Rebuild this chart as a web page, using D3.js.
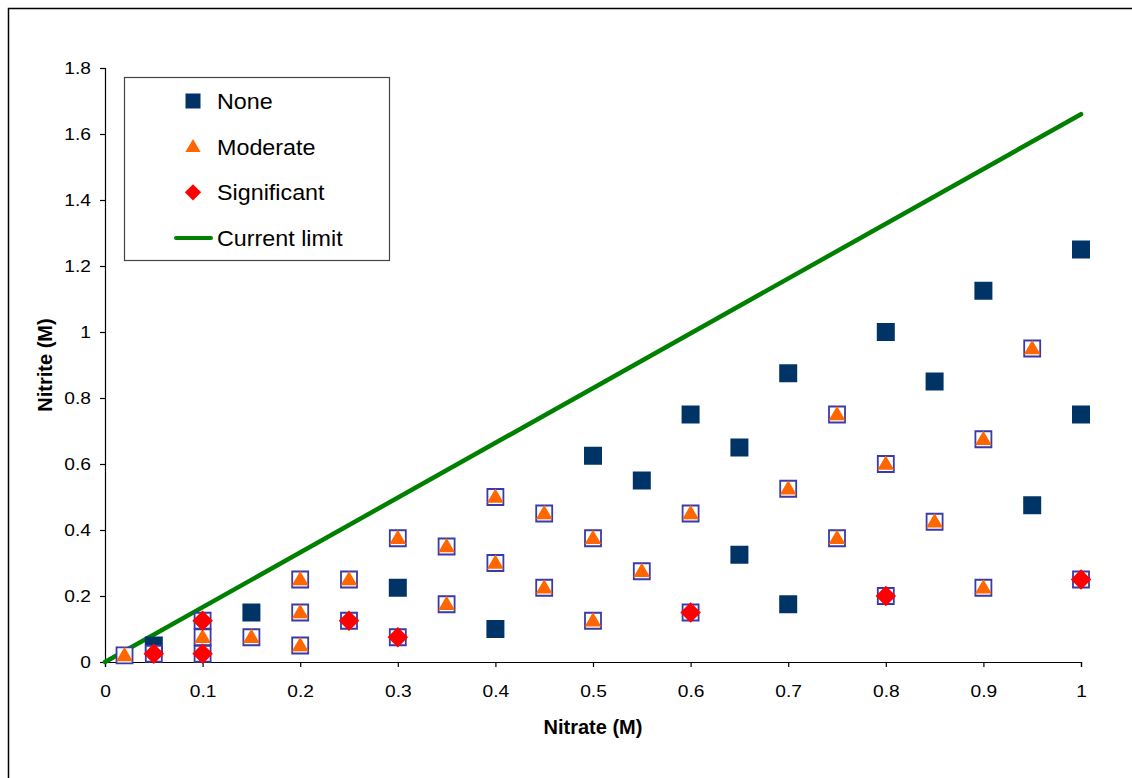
<!DOCTYPE html>
<html>
<head>
<meta charset="utf-8">
<script src="https://cdn.jsdelivr.net/npm/d3@7"></script>
<style>
  body { margin: 0; background: #fff; }
  text { font-family: "Liberation Sans", Arial, sans-serif; }
</style>
</head>
<body>
<div id="viz"></div>
<script>
// data, [nitrate, nitrite] in M
let nonePts = [
  [0.05, 0.05], [0.15, 0.15], [0.3, 0.225], [0.4, 0.1], [0.5, 0.625],
  [0.55, 0.55], [0.6, 0.75], [0.65, 0.65], [0.65, 0.325], [0.7, 0.875],
  [0.7, 0.175], [0.8, 1.0], [0.85, 0.85], [0.9, 1.125], [0.95, 0.475],
  [1.0, 1.25], [1.0, 0.75]
]

let moderatePts = [
  [0.02, 0.02], [0.1, 0.075], [0.15, 0.075], [0.2, 0.25], [0.2, 0.15],
  [0.2, 0.05], [0.25, 0.25], [0.3, 0.375], [0.35, 0.35], [0.35, 0.175],
  [0.4, 0.5], [0.4, 0.3], [0.45, 0.45], [0.45, 0.225], [0.5, 0.375],
  [0.5, 0.125], [0.55, 0.275], [0.6, 0.45], [0.7, 0.525], [0.75, 0.75],
  [0.75, 0.375], [0.8, 0.6], [0.85, 0.425], [0.9, 0.675], [0.9, 0.225],
  [0.95, 0.95]
]

let significantPts = [
  [0.05, 0.025], [0.1, 0.125], [0.1, 0.025], [0.25, 0.125], [0.3, 0.075],
  [0.6, 0.15], [0.8, 0.2], [1.0, 0.25]
]

// hollow squares sit under every moderate / significant sample
let outlinePts = moderatePts.concat(significantPts)

let limitLine = [[0, 0], [1, 1.66]]

let xTicks = [0, 0.1, 0.2, 0.3, 0.4, 0.5, 0.6, 0.7, 0.8, 0.9, 1]
let yTicks = [0, 0.2, 0.4, 0.6, 0.8, 1, 1.2, 1.4, 1.6, 1.8]

let legendItems = ['None', 'Moderate', 'Significant', 'Current limit']

let width = 1132
let height = 778
let stretch = 1.13 // tick labels in the picture are a bit wide

let svg = d3.select('#viz')
  .append('svg')
  .attr('width', width)
  .attr('height', height)

// outer chart border (runs off right and bottom)
svg.append('rect')
  .attr('x', 8.5)
  .attr('y', 8.5)
  .attr('width', 1140)
  .attr('height', 800)
  .attr('fill', 'none')
  .attr('stroke', '#000')
  .attr('stroke-width', 1.5)

let x = d3.scaleLinear().domain([0, 1]).range([105, 1081])
let y = d3.scaleLinear().domain([0, 1.8]).range([662, 68])

// axes
let xAxis = svg.append('g')
  .attr('transform', 'translate(0,662)')
  .call(d3.axisBottom(x).tickValues(xTicks).tickSize(5).tickPadding(18).tickFormat(d3.format('')))
let yAxis = svg.append('g')
  .attr('transform', 'translate(105,0)')
  .call(d3.axisLeft(y).tickValues(yTicks).tickSize(5).tickPadding(9).tickFormat(d3.format('')))

;[xAxis, yAxis].forEach(a => {
  a.select('.domain').attr('stroke', '#000').attr('stroke-width', 1.2)
  a.selectAll('.tick line').attr('stroke', '#000').attr('stroke-width', 1.2)
  a.selectAll('.tick text')
    .attr('font-family', '"Liberation Sans", Arial, sans-serif')
    .attr('font-size', 17)
    .attr('fill', '#000')
    .attr('transform', `scale(${stretch},1)`)
})
yAxis.selectAll('.tick text').attr('x', -14 / stretch)

svg.append('text')
  .attr('x', 593)
  .attr('y', 734)
  .attr('text-anchor', 'middle')
  .attr('font-size', 20)
  .attr('font-weight', 'bold')
  .text('Nitrate (M)')

svg.append('text')
  .attr('transform', 'translate(52,365) rotate(-90)')
  .attr('text-anchor', 'middle')
  .attr('font-size', 20)
  .attr('font-weight', 'bold')
  .text('Nitrite (M)')

// current limit line
svg.append('path')
  .datum(limitLine)
  .attr('d', d3.line().x(d => x(d[0])).y(d => y(d[1])))
  .attr('fill', 'none')
  .attr('stroke', '#008000')
  .attr('stroke-width', 4.5)
  .attr('stroke-linecap', 'round')

let sqSymbol = d3.symbol().type(d3.symbolSquare).size(18 * 18)
let outSymbol = d3.symbol().type(d3.symbolSquare).size(16 * 16)
let triSymbol = d3.symbol().type(d3.symbolTriangle).size(120)
let diaSymbol = d3.symbol().type(d3.symbolSquare).size(14.5 * 14.5)

svg.append('g').selectAll('path')
  .data(nonePts)
  .join('path')
  .attr('transform', d => `translate(${x(d[0])},${y(d[1])})`)
  .attr('d', sqSymbol)
  .attr('fill', '#003366')

svg.append('g').selectAll('path')
  .data(outlinePts)
  .join('path')
  .attr('transform', d => `translate(${x(d[0])},${y(d[1])})`)
  .attr('d', outSymbol)
  .attr('fill', '#fff')
  .attr('stroke', '#3a3aa8')
  .attr('stroke-width', 1.8)

svg.append('g').selectAll('path')
  .data(moderatePts)
  .join('path')
  .attr('transform', d => `translate(${x(d[0])},${y(d[1]) + 1})`)
  .attr('d', triSymbol)
  .attr('fill', '#ff6600')

svg.append('g').selectAll('path')
  .data(significantPts)
  .join('path')
  .attr('transform', d => `translate(${x(d[0])},${y(d[1])}) rotate(45)`)
  .attr('d', diaSymbol)
  .attr('fill', '#ff0000')

// legend
let legend = svg.append('g')
legend.append('rect')
  .attr('x', 124.5)
  .attr('y', 77.5)
  .attr('width', 265)
  .attr('height', 183)
  .attr('fill', '#fff')
  .attr('stroke', '#444')
  .attr('stroke-width', 1.2)

let legRowY = d3.scalePoint().domain(legendItems).range([101, 238])

legend.append('path')
  .attr('transform', `translate(193,${legRowY('None')})`)
  .attr('d', d3.symbol().type(d3.symbolSquare).size(15 * 15))
  .attr('fill', '#003366')
legend.append('path')
  .attr('transform', `translate(193,${legRowY('Moderate') + 1})`)
  .attr('d', d3.symbol().type(d3.symbolTriangle).size(100))
  .attr('fill', '#ff6600')
legend.append('path')
  .attr('transform', `translate(193,${legRowY('Significant')}) rotate(45)`)
  .attr('d', d3.symbol().type(d3.symbolSquare).size(11.5 * 11.5))
  .attr('fill', '#ff0000')
legend.append('line')
  .attr('x1', 176)
  .attr('x2', 211)
  .attr('y1', legRowY('Current limit'))
  .attr('y2', legRowY('Current limit'))
  .attr('stroke', '#008000')
  .attr('stroke-width', 4)
  .attr('stroke-linecap', 'round')

legend.selectAll('text.lab')
  .data(legendItems)
  .join('text')
  .attr('class', 'lab')
  .attr('transform', d => `translate(217,${legRowY(d) + 8}) scale(1.06,1)`)
  .attr('font-size', 22)
  .attr('fill', '#000')
  .text(d => d)
</script>
</body>
</html>
